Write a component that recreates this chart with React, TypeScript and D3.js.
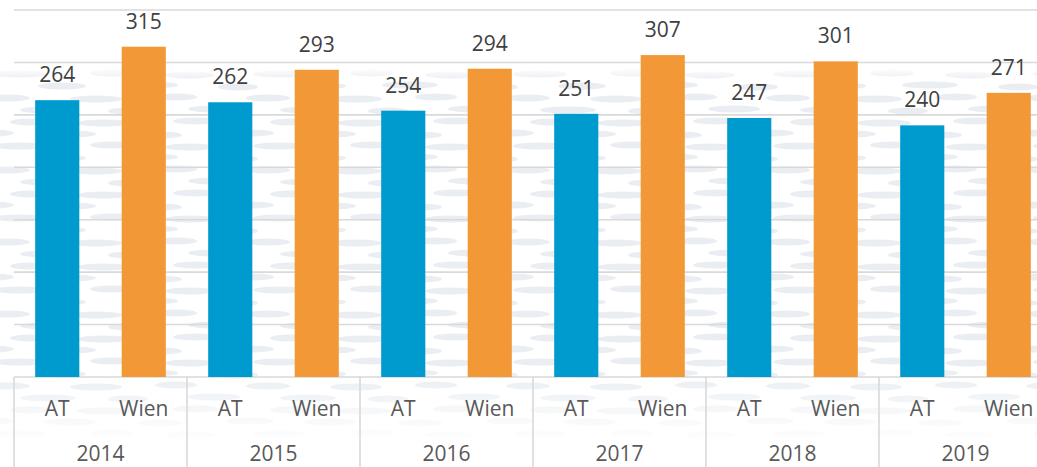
import * as d3 from 'd3';

const years = ['2014', '2015', '2016', '2017', '2018', '2019'];
const series = ['AT', 'Wien'];
const atValues = [264, 262, 254, 251, 247, 240];
const wienValues = [315, 293, 294, 307, 301, 271];
const yTicks = [0, 50, 100, 150, 200, 250, 300, 350];
const colors = { AT: '#009BCE', Wien: '#F39837' };

// decorative background ellipses, one tile of the pattern: [cx, cy, rx]
const blobs = [
	[20, 6, 27], [112, 5, 22], [190, 7, 25],
	[62, 18, 24], [150, 17, 28], [238, 19, 20],
	[8, 30, 22], [96, 31, 26], [176, 29, 21],
	[48, 42, 28], [128, 43, 20], [214, 41, 26],
	[30, 54, 20], [104, 55, 27], [196, 53, 23],
	[70, 66, 26], [160, 67, 22], [250, 65, 24],
];

const W = 1037;
const H = 467;
const left = 14;
const groupWidth = 173;
const baseY = 377;
const topY = 10;
const tileW = 260;
const tileH = 72;

export default function App() {
	const x0 = d3.scaleBand().domain(years).range([left, left + groupWidth * years.length]);
	const x1 = d3.scaleBand().domain(series).range([0, x0.bandwidth()]).paddingInner(0.49).paddingOuter(0.245);
	const y = d3.scaleLinear().domain([0, 350]).range([baseY, topY]);

	const rows = years.map((yr, i) => ({ year: yr, AT: atValues[i], Wien: wienValues[i] }));
	const font = "'Open Sans', sans-serif";

	return (
		<div style={{ position: 'fixed', left: 0, top: 0, width: W, height: H, background: '#fff' }}>
			<svg width={W} height={H} style={{ display: 'block' }}>
				<defs>
					<pattern id="blobs" width={tileW} height={tileH} patternUnits="userSpaceOnUse" x={0} y={68}>
						{blobs.flatMap(([cx, cy, rx], i) =>
							[cx - tileW, cx, cx + tileW].map((c, k) => (
								<ellipse key={`${i}-${k}`} cx={c} cy={cy} rx={rx} ry={3.6} fill="#EAEEF2" />
							))
						)}
					</pattern>
					<linearGradient id="fade" x1="0" y1="0" x2="0" y2="1">
						<stop offset="0" stopColor="#fff" stopOpacity={0} />
						<stop offset="0.04" stopColor="#fff" stopOpacity={1} />
						<stop offset="0.8" stopColor="#fff" stopOpacity={1} />
						<stop offset="1" stopColor="#fff" stopOpacity={0} />
					</linearGradient>
					<linearGradient id="fadeX" x1="0" y1="0" x2="1" y2="1">
						<stop offset="0" stopColor="#fff" stopOpacity={1} />
						<stop offset="1" stopColor="#fff" stopOpacity={0.85} />
					</linearGradient>
					<mask id="fadeMask">
						<rect x={0} y={66} width={W} height={380} fill="url(#fade)" />
					</mask>
				</defs>

				<rect x={0} y={66} width={W} height={380} fill="url(#blobs)" mask="url(#fadeMask)" />

				{yTicks.map((t) => (
					<line key={t} x1={left} x2={W} y1={y(t)} y2={y(t)} stroke="#D9D9D9" strokeWidth={1.6} />
				))}

				{x0.domain().concat(['end']).map((yr, i) => {
					const xx = left + i * groupWidth;
					return <line key={yr} x1={xx} x2={xx} y1={baseY} y2={H} stroke="#D9D9D9" strokeWidth={1.6} />;
				})}

				{rows.map((d) => (
					<g key={d.year} transform={`translate(${x0(d.year)},0)`}>
						{series.map((s) => {
							const v = d[s as 'AT' | 'Wien'];
							const bx = x1(s)!;
							const bw = x1.bandwidth();
							return (
								<g key={s}>
									<rect x={bx} y={y(v)} width={bw} height={baseY - y(v)} fill={colors[s as 'AT' | 'Wien']} />
									<text x={bx + bw / 2} y={y(v) - 18} textAnchor="middle" fontFamily={font} fontSize={21} fill="#404040">
										{v}
									</text>
									<text x={bx + bw / 2} y={416} textAnchor="middle" fontFamily={font} fontSize={21} fill="#595959">
										{s}
									</text>
								</g>
							);
						})}
						<text x={x0.bandwidth() / 2} y={461} textAnchor="middle" fontFamily={font} fontSize={21} fill="#595959">
							{d.year}
						</text>
					</g>
				))}
			</svg>
		</div>
	);
}
